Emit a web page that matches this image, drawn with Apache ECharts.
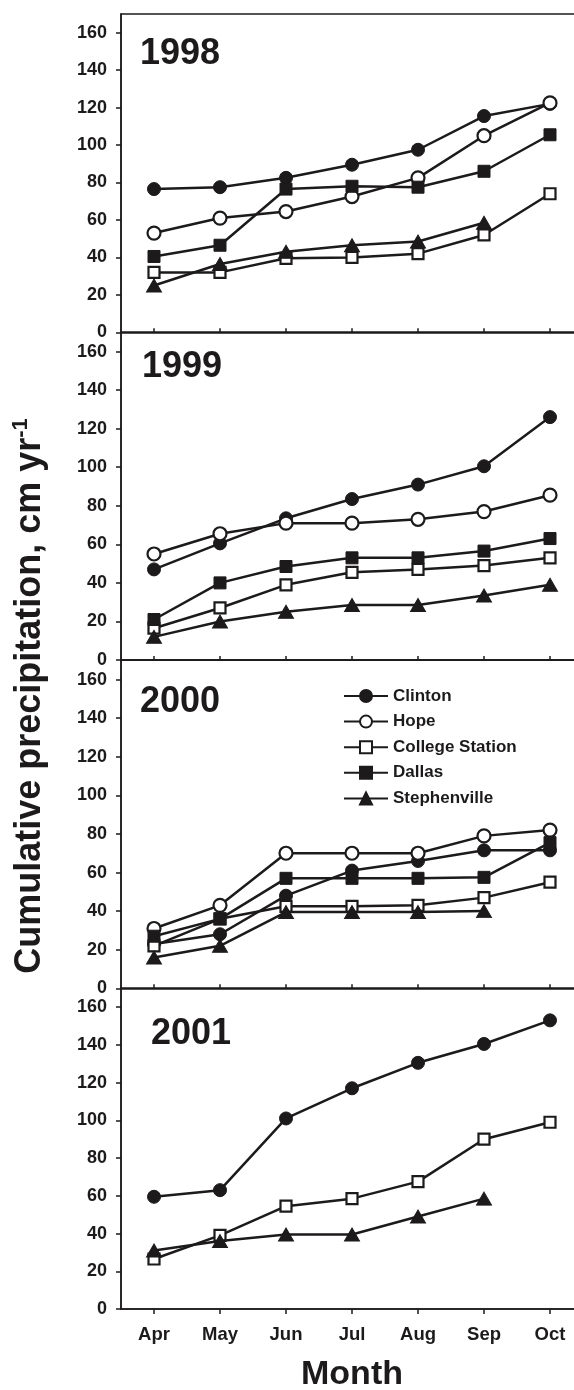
<!DOCTYPE html>
<html><head><meta charset="utf-8">
<script src="https://cdn.jsdelivr.net/npm/echarts@6/dist/echarts.min.js"></script>
<style>html,body{margin:0;padding:0;background:#fff;overflow:hidden}#c{width:590px;height:1390px}</style>
</head><body><div id="c"></div>
<script>
// ---------- data ----------
const months = ['Apr', 'May', 'Jun', 'Jul', 'Aug', 'Sep', 'Oct'];
const yTickValues = [0, 20, 40, 60, 80, 100, 120, 140, 160];
const years = ['1998', '1999', '2000', '2001'];
const stations = ['Clinton', 'Hope', 'College Station', 'Dallas', 'Stephenville'];

const clinton1998 = [76.5, 77.5, 82.5, 89.5, 97.5, 115.5, 122];
const hope1998 = [53, 61, 64.5, 72.5, 82.5, 105, 122.5];
const collegeStation1998 = [32, 32, 39.5, 40, 42, 52, 74];
const dallas1998 = [40.5, 46.5, 76.5, 78, 77.5, 86, 105.5];
const stephenville1998 = [25, 36.5, 43, 46.5, 48.5, 58.5, null];

const clinton1999 = [47, 60.5, 73.5, 83.5, 91, 100.5, 126];
const hope1999 = [55, 65.5, 71, 71, 73, 77, 85.5];
const collegeStation1999 = [16.5, 27, 39, 45.5, 47, 49, 53];
const dallas1999 = [21, 40, 48.5, 53, 53, 56.5, 63];
const stephenville1999 = [12, 20, 25, 28.5, 28.5, 33.5, 39];

const clinton2000 = [23, 28, 48, 61, 66, 71.5, 71.5];
const hope2000 = [31, 43, 70, 70, 70, 79, 82];
const collegeStation2000 = [22, 36, 42.5, 42.5, 43, 47, 55];
const dallas2000 = [27, 36, 57, 57, 57, 57.5, 75.5];
const stephenville2000 = [16, 22, 39.5, 39.5, 39.5, 40, null];

const clinton2001 = [59.5, 63, 101, 117, 130.5, 140.5, 153];
const collegeStation2001 = [26.5, 39, 54.5, 58.5, 67.5, 90, 99];
const stephenville2001 = [31, 36, 39.5, 39.5, 49, 58.5, null];

const panelData = [
  {Clinton: clinton1998, Hope: hope1998, 'College Station': collegeStation1998, Dallas: dallas1998, Stephenville: stephenville1998},
  {Clinton: clinton1999, Hope: hope1999, 'College Station': collegeStation1999, Dallas: dallas1999, Stephenville: stephenville1999},
  {Clinton: clinton2000, Hope: hope2000, 'College Station': collegeStation2000, Dallas: dallas2000, Stephenville: stephenville2000},
  {Clinton: clinton2001, 'College Station': collegeStation2001, Stephenville: stephenville2001}
];

// ---------- styling ----------
const INK = '#1c1a1b';
const FONT = "'Liberation Sans', Arial, Helvetica, sans-serif";
const symbolStyle = {
  'Clinton': {symbol: 'circle', symbolSize: 13, itemStyle: {color: INK, borderColor: INK, borderWidth: 1}},
  'Hope': {symbol: 'circle', symbolSize: 13, itemStyle: {color: '#fff', borderColor: INK, borderWidth: 2.2}},
  'College Station': {symbol: 'rect', symbolSize: 11, itemStyle: {color: '#fff', borderColor: INK, borderWidth: 2.2}},
  'Dallas': {symbol: 'rect', symbolSize: 12, itemStyle: {color: INK, borderColor: INK, borderWidth: 1}},
  'Stephenville': {symbol: 'triangle', symbolSize: [15, 13], itemStyle: {color: INK, borderColor: INK, borderWidth: 1}}
};

const grids = [
  {left: 121, top: 14, width: 462, height: 318.3},
  {left: 121, top: 332.3, width: 462, height: 327.7},
  {left: 121, top: 660.3, width: 462, height: 328},
  {left: 121, top: 988.3, width: 462, height: 320.7}
].map(g => Object.assign(g, {show: true, borderColor: INK, borderWidth: 1.5, backgroundColor: 'transparent'}));

const xAxes = grids.map((g, i) => ({
  type: 'category', gridIndex: i, data: months, boundaryGap: true,
  axisLine: {lineStyle: {color: INK, width: 1.5}},
  axisTick: {show: true, alignWithLabel: true, inside: i < 3, length: i < 3 ? 4 : 5, lineStyle: {color: INK, width: 1.5}},
  axisLabel: {show: i === 3, color: INK, fontFamily: FONT, fontWeight: 'bold', fontSize: 18.5, margin: 16},
  splitLine: {show: false}
}));

const yAxes = grids.map((g, i) => ({
  type: 'value', gridIndex: i, min: 0, max: 170, interval: 10,
  axisLine: {show: true, lineStyle: {color: INK, width: 1.5}},
  axisTick: {show: true, length: 5, customValues: yTickValues, lineStyle: {color: INK, width: 1.5}},
  axisLabel: {color: INK, fontFamily: FONT, fontWeight: 'bold', fontSize: 18, margin: 14, customValues: yTickValues},
  splitLine: {show: false}
}));

const series = [];
panelData.forEach((pd, i) => {
  stations.forEach((name, k) => {
    if (!pd[name]) return;
    const st = symbolStyle[name];
    series.push({
      type: 'line', name, xAxisIndex: i, yAxisIndex: i, data: pd[name],
      symbol: st.symbol, symbolSize: st.symbolSize, itemStyle: st.itemStyle,
      lineStyle: {color: INK, width: 2.5}, showAllSymbol: true, z: 2 + k,
      emphasis: {disabled: true}
    });
  });
});

const titlePos = [{left: 140, top: 36}, {left: 142, top: 349}, {left: 140, top: 684}, {left: 151, top: 1016}];
const titles = years.map((y, i) => ({
  text: y, left: titlePos[i].left, top: titlePos[i].top, padding: 0,
  textStyle: {color: INK, fontFamily: FONT, fontWeight: 'bold', fontSize: 36}
}));

const option = {
  animation: false,
  backgroundColor: '#fff',
  title: titles,
  grid: grids,
  xAxis: xAxes,
  yAxis: yAxes,
  legend: {
    data: stations, orient: 'vertical', left: 343, top: 687.5, padding: 0,
    itemWidth: 44, itemHeight: 15, itemGap: 8.6, selectedMode: false,
    textStyle: {color: INK, fontFamily: FONT, fontWeight: 'bold', fontSize: 17}
  },
  graphic: [
    {
      type: 'text', x: 30, y: 696, rotation: Math.PI / 2,
      style: {
        text: '{m|Cumulative precipitation, cm yr}{s|-1}',
        align: 'center', verticalAlign: 'middle',
        rich: {
          m: {fontFamily: FONT, fontWeight: 'bold', fontSize: 36, fill: INK, color: INK, lineHeight: 40},
          s: {fontFamily: FONT, fontWeight: 'bold', fontSize: 22, fill: INK, color: INK, verticalAlign: 'top', lineHeight: 22}
        }
      }
    },
    {
      type: 'text', x: 352, y: 1375,
      style: {text: 'Month', align: 'center', verticalAlign: 'middle', fill: INK, font: "bold 34px 'Liberation Sans', Arial, sans-serif"}
    }
  ],
  series
};

const chart = echarts.init(document.getElementById('c'), null, {renderer: 'canvas'});
chart.setOption(option);
</script>
</body></html>
